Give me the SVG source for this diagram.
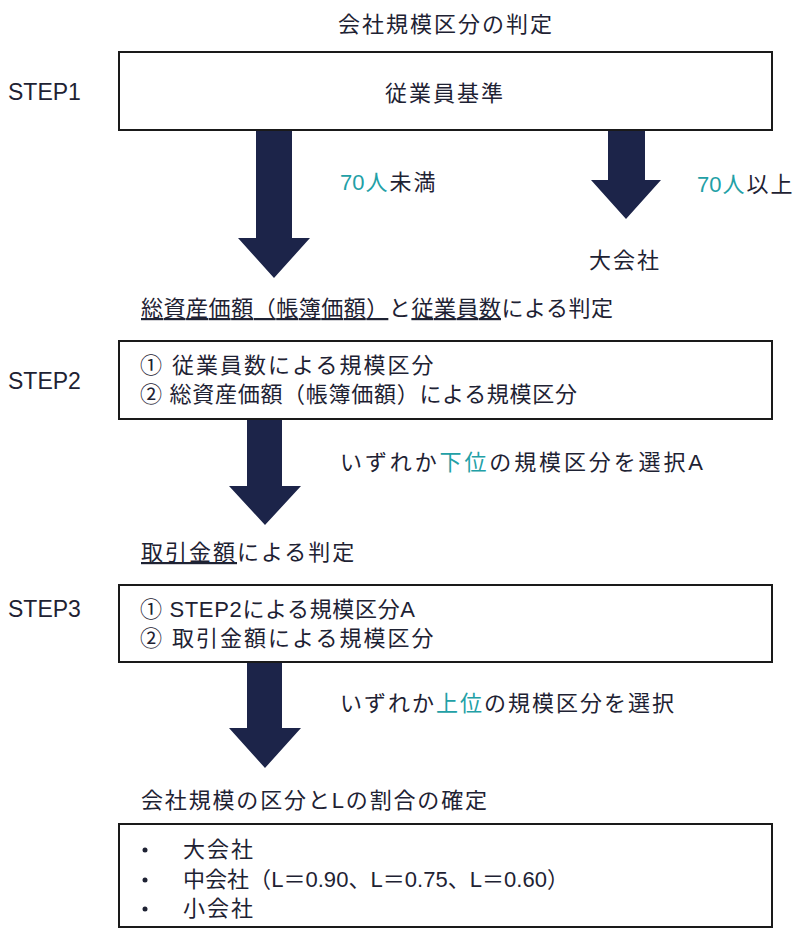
<svg xmlns="http://www.w3.org/2000/svg" width="804" height="931" viewBox="0 0 804 931">
<style>
text{font-family:"Liberation Sans","Noto Sans CJK JP",sans-serif;font-size:22px;fill:#1e2233;letter-spacing:2px}
.step{font-size:23px;letter-spacing:0}
.ns{letter-spacing:0}
.teal{fill:#22a0a6}
.u{text-decoration:underline}
.box{fill:#fff;stroke:#1a1a1a;stroke-width:2}
.arrow{fill:#1c2449}
</style>
<rect width="804" height="931" fill="#fff"/>
<text id="title" x="446" y="32" text-anchor="middle">会社規模区分の判定</text>
<text class="step" x="8" y="100">STEP1</text>
<text class="step" x="8" y="389">STEP2</text>
<text class="step" x="8" y="617">STEP3</text>
<g id="connectors">
<path class="arrow" d="M256 130H292V238H310L274 278L238 238H256Z"/>
<path class="arrow" d="M608 130H645V180H661L626 219L591 180H608Z"/>
<path class="arrow" d="M247 419H282V486H301L265 525L229 486H247Z"/>
<path class="arrow" d="M247 662H282V728H301L265 768L229 728H247Z"/>
<text x="340" y="190"><tspan class="teal ns">70</tspan><tspan class="teal" dx="1">人</tspan>未満</text>
<text x="697" y="192"><tspan class="teal ns">70</tspan><tspan class="teal" dx="1">人</tspan>以上</text>
<text class="ns" x="340" y="470" textLength="363" lengthAdjust="spacing">いずれか<tspan class="teal">下位</tspan>の規模区分を選択A</text>
<text x="340" y="711">いずれか<tspan class="teal">上位</tspan>の規模区分を選択</text>
</g>
<g id="node-step1">
<rect class="box" x="119" y="52" width="653" height="78"/>
<text x="445" y="101" text-anchor="middle">従業員基準</text>
</g>
<g id="node-large">
<text x="589" y="268">大会社</text>
</g>
<g id="node-step2-label">
<text class="ns" x="141" y="316" textLength="472" lengthAdjust="spacing"><tspan class="u">総資産価額（帳簿価額）</tspan>と<tspan class="u">従業員数</tspan>による判定</text>
</g>
<g id="node-step2">
<rect class="box" x="119" y="341" width="653" height="78"/>
<text x="140" y="373">① 従業員数による規模区分</text>
<text class="ns" x="140" y="402" textLength="437" lengthAdjust="spacing">② 総資産価額（帳簿価額）による規模区分</text>
</g>
<g id="node-step3-label">
<text x="141" y="560"><tspan class="u">取引金額</tspan>による判定</text>
</g>
<g id="node-step3">
<rect class="box" x="119" y="585" width="653" height="77"/>
<text class="ns" x="140" y="617" textLength="275" lengthAdjust="spacing">① STEP2による規模区分A</text>
<text x="140" y="646">② 取引金額による規模区分</text>
</g>
<g id="node-result-label">
<text class="ns" x="141" y="808" textLength="346" lengthAdjust="spacing">会社規模の区分とLの割合の確定</text>
</g>
<g id="node-result">
<rect class="box" x="119" y="824" width="653" height="103"/>
<circle cx="145" cy="850" r="2.5" fill="#1e2233"/>
<circle cx="145" cy="880" r="2.5" fill="#1e2233"/>
<circle cx="145" cy="909" r="2.5" fill="#1e2233"/>
<text x="183" y="857">大会社</text>
<text class="ns" x="183" y="887" textLength="386" lengthAdjust="spacing">中会社（L＝0.90、L＝0.75、L＝0.60）</text>
<text x="183" y="916">小会社</text>
</g>
</svg>
